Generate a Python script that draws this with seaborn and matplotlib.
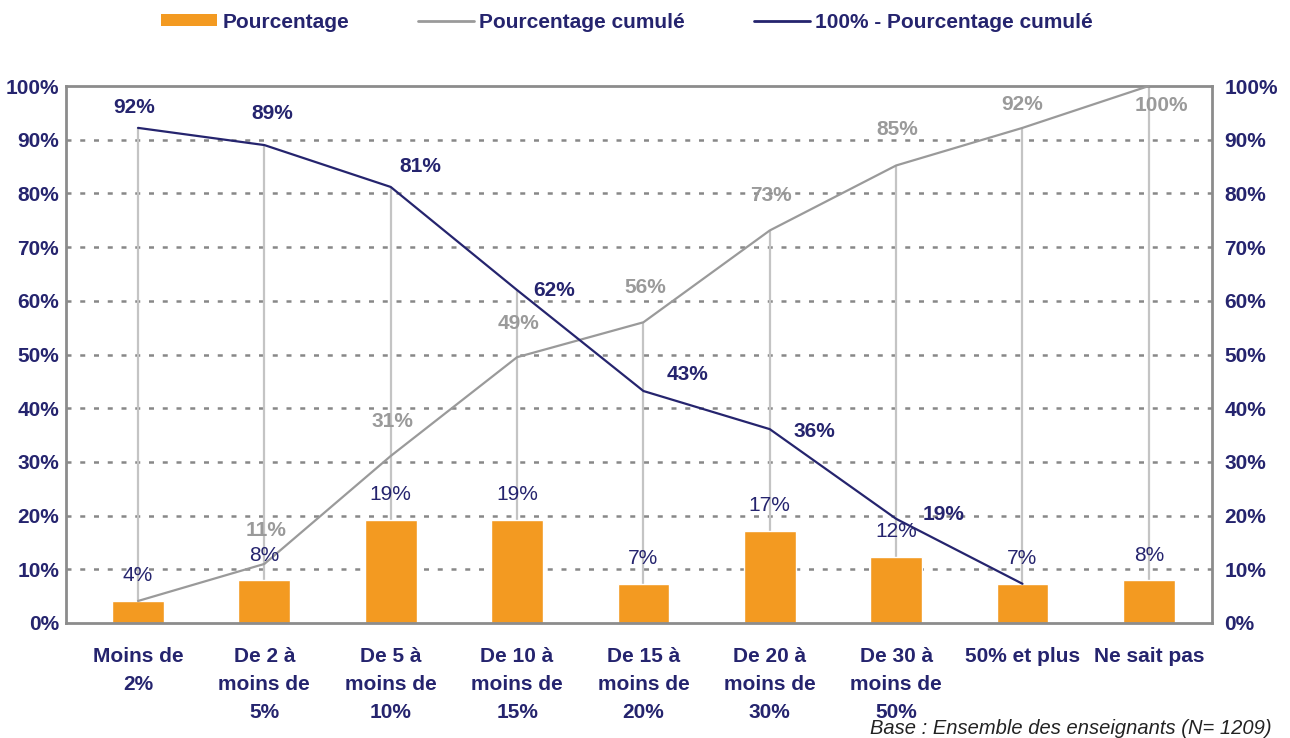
import numpy as np
import pandas as pd
import matplotlib
matplotlib.use("Agg")
import matplotlib.pyplot as plt
import seaborn as sns
from matplotlib.patches import Patch
from matplotlib.lines import Line2D

categories = ["Moins de\n2%", "De 2 à\nmoins de\n5%", "De 5 à\nmoins de\n10%",
              "De 10 à\nmoins de\n15%", "De 15 à\nmoins de\n20%", "De 20 à\nmoins de\n30%",
              "De 30 à\nmoins de\n50%", "50% et plus", "Ne sait pas"]
pourcentage = [4.1, 8.0, 19.2, 19.2, 7.3, 17.2, 12.3, 7.3, 8.0]
pourcentage_labels = ["4%", "8%", "19%", "19%", "7%", "17%", "12%", "7%", "8%"]
cumule = [4.1, 11.0, 31.1, 49.5, 56.0, 73.1, 85.2, 92.2, 100.0]
cumule_labels = ["", "11%", "31%", "49%", "56%", "73%", "85%", "92%", "100%"]
restant = [92.2, 89.0, 81.2, 62.0, 43.2, 36.1, 19.4, 7.3]
restant_labels = ["92%", "89%", "81%", "62%", "43%", "36%", "19%", ""]
yticks = [0, 10, 20, 30, 40, 50, 60, 70, 80, 90, 100]
legend_labels = ["Pourcentage", "Pourcentage cumulé", "100% - Pourcentage cumulé"]
footnote = "Base : Ensemble des enseignants (N= 1209)"

ORANGE = "#F39A21"
NAVY = "#25246E"
GREY = "#9A9A9A"
DROP = "#C4C4C4"
SPINE = "#8C8C8C"
FS = 15

sns.set_theme(style="white")
plt.rcParams["font.family"] = ["Liberation Sans", "DejaVu Sans"]

fig = plt.figure(figsize=(12.9, 7.38), dpi=100)
ax = fig.add_axes([66 / 1290, 1 - 623 / 738, (1212 - 66) / 1290, (623 - 86) / 738])

x = np.arange(len(categories))
df_bar = pd.DataFrame({"cat": categories, "val": pourcentage})
df_cum = pd.DataFrame({"x": x, "val": cumule})
df_rest = pd.DataFrame({"x": x[:len(restant)], "val": restant})

# gridlines
for t in yticks[1:-1]:
    ax.axhline(t, color="#888888", lw=1.8, ls=(0, (2, 3.5)), zorder=0)

# drop lines
tops = [max(c, restant[i]) if i < len(restant) else c for i, c in enumerate(cumule)]
ax.vlines(x, 0, tops, color=DROP, lw=1.6, zorder=1)

sns.barplot(data=df_bar, x="cat", y="val", color=ORANGE, width=0.41, ax=ax,
            saturation=1, zorder=2, order=categories)
sns.lineplot(data=df_cum, x="x", y="val", color=GREY, lw=1.6, ax=ax, zorder=3)
sns.lineplot(data=df_rest, x="x", y="val", color=NAVY, lw=1.6, ax=ax, zorder=4)

ax.set_xlim(-0.57, 8.5)
ax.set_ylim(0, 100)
ax.set_yticks(yticks)
ax.set_yticklabels([f"{t}%" for t in yticks])
ax.set_xlabel("")
ax.set_ylabel("")
ax.set_xticks(x)
ax.set_xticklabels(categories, linespacing=1.6)
ax.tick_params(axis="x", length=0, pad=17, labelsize=FS, labelcolor=NAVY)
ax.tick_params(axis="y", length=0, pad=5, labelsize=FS, labelcolor=NAVY)
for lab in ax.get_xticklabels() + ax.get_yticklabels():
    lab.set_fontweight("bold")

for s in ax.spines.values():
    s.set_visible(True)
    s.set_color(SPINE)
    s.set_linewidth(2)

ax2 = ax.twinx()
ax2.set_ylim(0, 100)
ax2.set_yticks(yticks)
ax2.set_yticklabels([f"{t}%" for t in yticks])
ax2.tick_params(axis="y", length=0, pad=9, labelsize=FS, labelcolor=NAVY)
for lab in ax2.get_yticklabels():
    lab.set_fontweight("bold")
for s in ax2.spines.values():
    s.set_visible(False)

# bar labels
for i, (v, lab) in enumerate(zip(pourcentage, pourcentage_labels)):
    ax.annotate(lab, (i, v), xytext=(0, 18), textcoords="offset points",
                ha="center", va="center", fontsize=FS, color=NAVY, zorder=6)

# cumulative labels (grey bold)
cum_off = [(0, 24), (1, 24), (1, 25), (1, 24), (1, 25), (1, 25), (1, 26), (0, 17), (9, -14)]
for i, (v, lab) in enumerate(zip(cumule, cumule_labels)):
    if lab:
        ax.annotate(lab, (i, v), xytext=cum_off[i], textcoords="offset points",
                    ha="center", va="center", fontsize=FS, color=GREY,
                    fontweight="bold", zorder=6)

# remaining labels (navy bold)
rest_off = [(-3, 15), (6, 23), (21, 15), (27, 0), (32, 12), (32, -2), (34, 3), (0, 0)]
for i, (v, lab) in enumerate(zip(restant, restant_labels)):
    if lab:
        ax.annotate(lab, (i, v), xytext=rest_off[i], textcoords="offset points",
                    ha="center", va="center", fontsize=FS, color=NAVY,
                    fontweight="bold", zorder=6)

handles = [Patch(facecolor=ORANGE, edgecolor="none"),
           Line2D([0], [0], color=GREY, lw=2),
           Line2D([0], [0], color=NAVY, lw=2)]
leg = fig.legend(handles, legend_labels, loc="center", bbox_to_anchor=(627 / 1290, 1 - 22 / 738),
                 ncol=3, frameon=False, fontsize=FS, handlelength=2.7, handleheight=0.55,
                 handletextpad=0.25, columnspacing=3.3)
for t in leg.get_texts():
    t.set_color(NAVY)
    t.set_fontweight("bold")

fig.text(1272 / 1290, 1 - 728 / 738, footnote, ha="right", va="center",
         fontsize=14.5, style="italic", color="#222222")

fig.savefig("out.png", dpi=100)
